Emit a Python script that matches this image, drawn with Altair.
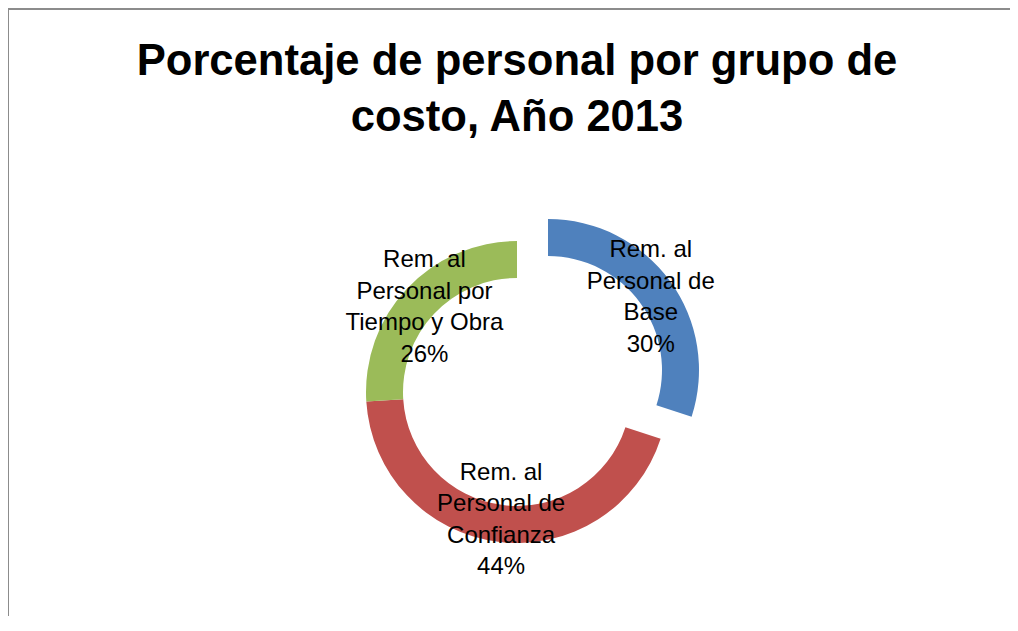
import altair as alt
import pandas as pd

# ---- data ----
categories = [
    "Rem. al Personal de Base",
    "Rem. al Personal de Confianza",
    "Rem. al Personal por Tiempo y Obra",
]
label_lines = [
    "Rem. al\nPersonal de\nBase",
    "Rem. al\nPersonal de\nConfianza",
    "Rem. al\nPersonal por\nTiempo y Obra",
]
percentages = [30, 44, 26]
slice_order = [1, 2, 3]
exploded = [1, 0, 0]

title_lines = ["Porcentaje de personal por grupo de", "costo, Año 2013"]
colors = ["#4F81BD", "#C0504D", "#9BBB59"]

df = pd.DataFrame({
    "cat": categories,
    "pct": percentages,
    "ord": slice_order,
    "expl": exploded,
    "label": [f"{l}\n{p}%" for l, p in zip(label_lines, percentages)],
})

R_OUT, R_IN, R_LBL = 151, 114, 127
DX, DY = 31, -22

base = alt.Chart(df).encode(
    theta=alt.Theta("pct:Q", stack=True),
    order=alt.Order("ord:Q"),
)

is_expl = alt.datum.expl == 1

arc_main = base.mark_arc(outerRadius=R_OUT, innerRadius=R_IN).encode(
    color=alt.Color("cat:N", scale=alt.Scale(domain=categories, range=colors), legend=None),
    opacity=alt.condition(is_expl, alt.value(0), alt.value(1)),
)
arc_expl = base.mark_arc(outerRadius=R_OUT, innerRadius=R_IN, xOffset=DX, yOffset=DY).encode(
    color=alt.Color("cat:N", scale=alt.Scale(domain=categories, range=colors), legend=None),
    opacity=alt.condition(is_expl, alt.value(1), alt.value(0)),
)

text_props = dict(radius=R_LBL, fontSize=24, font="Liberation Sans", lineBreak="\n",
                  lineHeight=31.5, baseline="middle", align="center", color="#000000", dy=-45)
txt_main = base.mark_text(**text_props).encode(
    text="label:N",
    opacity=alt.condition(is_expl, alt.value(0), alt.value(1)),
)
txt_expl = base.mark_text(xOffset=DX, yOffset=DY, **text_props).encode(
    text="label:N",
    opacity=alt.condition(is_expl, alt.value(1), alt.value(0)),
)

W, H, PL, PT = 986, 448, 16, 160

frame = alt.Data(values=[{}])
top_rule = alt.Chart(frame).mark_rule(color="#8C8C8C", strokeWidth=2).encode(
    x=alt.value(-PL), x2=alt.value(W + 10), y=alt.value(-PT + 1)
)
left_rule = alt.Chart(frame).mark_rule(color="#8C8C8C", strokeWidth=2).encode(
    x=alt.value(-PL + 0), y=alt.value(-PT), y2=alt.value(H + 10)
)

chart = alt.layer(top_rule, left_rule, arc_main, arc_expl, txt_main, txt_expl).properties(
    width=W,
    height=H,
    autosize=alt.AutoSizeParams(type="none"),
    padding={"left": PL, "top": PT, "right": 0, "bottom": 0},
    title=alt.TitleParams(
        title_lines,
        fontSize=43.6,
        font="Liberation Sans",
        fontWeight="bold",
        lineHeight=56,
        anchor="middle",
        baseline="alphabetic",
        frame="group",
        offset=35,
        dy=203,
        color="#000000",
    ),
).configure_view(stroke=None)

chart.save("out.html", embed_options={"renderer": "svg", "actions": False})
